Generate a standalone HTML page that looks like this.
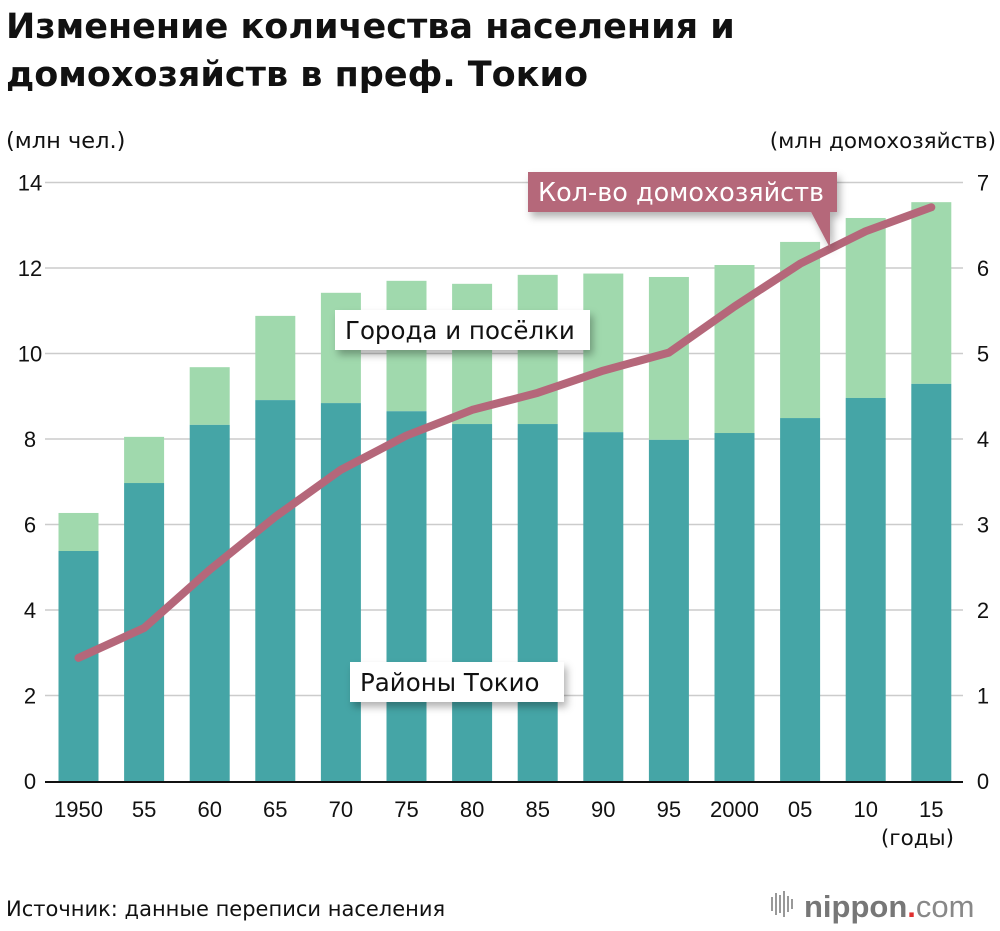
<!DOCTYPE html>
<html><head><meta charset="utf-8"><style>
body{margin:0;background:#fff;}
svg text{font-family:"Liberation Sans","DejaVu Sans",sans-serif;}
svg text.dv{font-family:"DejaVu Sans","Liberation Sans",sans-serif;}
</style></head><body>
<svg id="c" width="1000" height="926" xmlns="http://www.w3.org/2000/svg">
<defs><filter id="sh" x="-20%" y="-40%" width="150%" height="200%"><feDropShadow dx="3" dy="5" stdDeviation="4" flood-color="#000" flood-opacity="0.3"/></filter></defs>
<text class="dv" x="6" y="38" font-size="35" font-weight="bold" fill="#111">Изменение количества населения и</text>
<text class="dv" x="6" y="86" font-size="35" font-weight="bold" fill="#111">домохозяйств в преф. Токио</text>
<text class="dv" x="6" y="148" font-size="22.5" fill="#111">(млн чел.)</text>
<text class="dv" x="996" y="148" font-size="21.5" fill="#111" text-anchor="end">(млн домохозяйств)</text>
<g id="grid"></g><g id="bars"></g><g id="line"></g><g id="labels"></g>
<line x1="45" y1="782" x2="963" y2="782" stroke="#111" stroke-width="2"/>
<g filter="url(#sh)"><rect x="335" y="310" width="255" height="40" fill="#fff"/></g>
<text class="dv" x="345" y="339" font-size="24.5" fill="#111">Города и посёлки</text>
<g filter="url(#sh)"><rect x="350" y="662" width="214" height="40" fill="#fff"/></g>
<text class="dv" x="360" y="691" font-size="24.5" fill="#111">Районы Токио</text>
<g filter="url(#sh)"><rect x="528" y="172" width="309" height="40" fill="#b5677a"/><polygon points="810,210 830,210 830,248" fill="#b5677a"/></g>
<text class="dv" x="538" y="201" font-size="25.5" fill="#fff">Кол-во домохозяйств</text>
<text class="dv" x="954" y="845" font-size="21.5" fill="#111" text-anchor="end">(годы)</text>
<text class="dv" x="6" y="916" font-size="21" fill="#111">Источник: данные переписи населения</text>
<g>
<g fill="#999"><rect x="771" y="897" width="2" height="14"/><rect x="775" y="893" width="2" height="22"/><rect x="779" y="895" width="2" height="18"/><rect x="783" y="891" width="2" height="26"/><rect x="787" y="896" width="2" height="16"/><rect x="791" y="899" width="2" height="10"/></g>
<text x="804" y="917" font-size="31" font-weight="bold" fill="#777">nippon<tspan fill="#e03030">.</tspan><tspan font-weight="normal" fill="#888">com</tspan></text>
</g>
</svg>
<script>
const years=["1950","55","60","65","70","75","80","85","90","95","2000","05","10","15"];
const wards=[5.38,6.97,8.33,8.91,8.84,8.65,8.35,8.35,8.16,7.98,8.14,8.49,8.96,9.29];
const totals=[6.27,8.05,9.68,10.88,11.42,11.70,11.63,11.84,11.87,11.79,12.07,12.61,13.17,13.54];
const households=[1.44,1.79,2.47,3.09,3.64,4.04,4.34,4.54,4.80,5.01,5.55,6.05,6.43,6.71];
const leftTicks=[0,2,4,6,8,10,12,14];
const rightTicks=[0,1,2,3,4,5,6,7];
const NS="http://www.w3.org/2000/svg";
const y0=781,pxL=42.75,pxR=85.5;
const yL=v=>y0-v*pxL, yR=v=>y0-v*pxR, xC=i=>78.5+i*65.6, bw=40;
function mk(t,a,p){const e=document.createElementNS(NS,t);for(const k in a)e.setAttribute(k,a[k]);document.getElementById(p).appendChild(e);return e;}
leftTicks.forEach(v=>{
 if(v>0){const g=mk('line',{x1:45,x2:963,y1:yL(v),y2:yL(v),stroke:'#ccc','stroke-width':1.5},'grid');
 
 }
 const t=mk('text',{x:30,y:yL(v)+8,'font-size':22,'text-anchor':'middle',fill:'#111'},'labels');t.textContent=v;
 
 
});
rightTicks.forEach(v=>{
 const t=mk('text',{x:983,y:yR(v)+8,'font-size':22,'text-anchor':'middle',fill:'#111'},'labels');t.textContent=v;
 
 
});
years.forEach((yr,i)=>{
 const a=mk('rect',{x:xC(i)-bw/2,y:yL(totals[i]),width:bw,height:yL(wards[i])-yL(totals[i]),fill:'#a0d9ad'},'bars');
 
 
 const b=mk('rect',{x:xC(i)-bw/2,y:yL(wards[i]),width:bw,height:y0-yL(wards[i]),fill:'#45a5a6'},'bars');
 
 
 const t=mk('text',{x:xC(i),y:817,'font-size':22,'text-anchor':'middle',fill:'#111'},'labels');t.textContent=yr;
 
 
});
const p=mk('polyline',{points:households.map((v,i)=>xC(i)+','+yR(v)).join(' '),fill:'none',stroke:'#b5677a','stroke-width':8,'stroke-linecap':'round','stroke-linejoin':'round'},'line');


</script>
</body></html>
